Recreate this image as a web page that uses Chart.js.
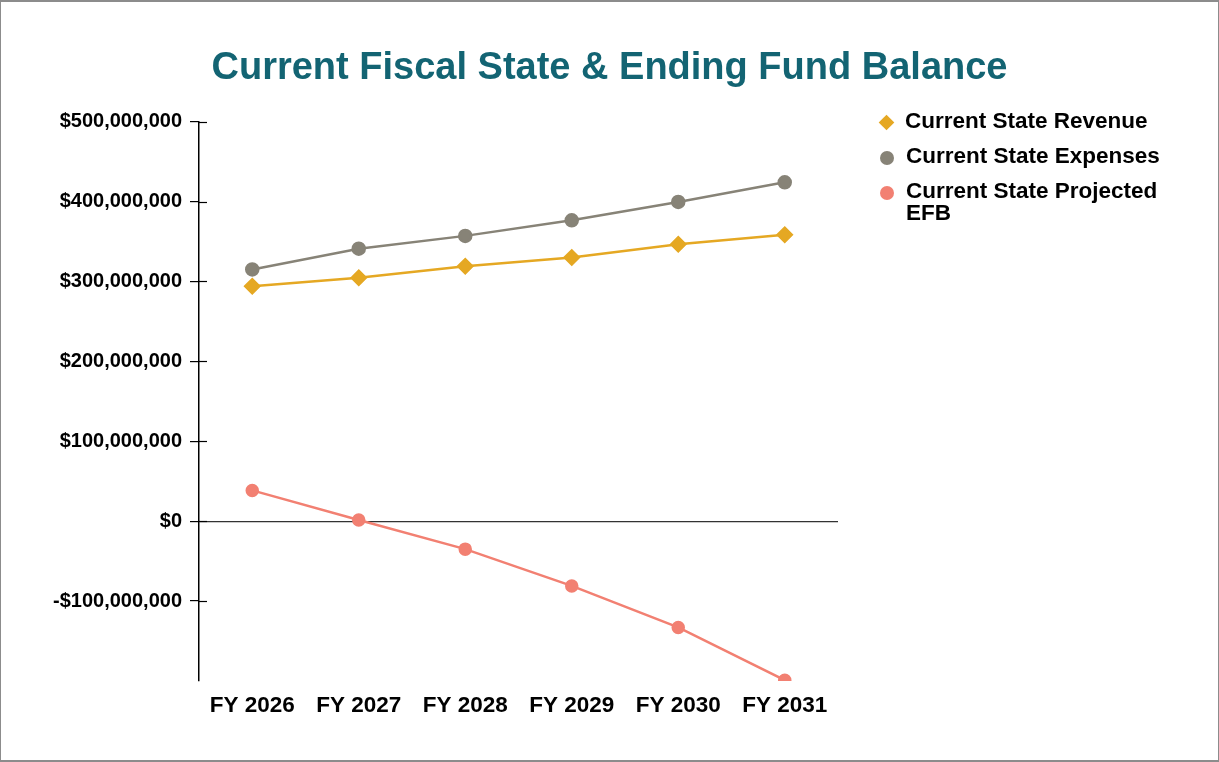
<!DOCTYPE html>
<html>
<head>
<meta charset="utf-8">
<script src="https://cdn.jsdelivr.net/npm/chart.js@4.4.1/dist/chart.umd.min.js"></script>
<style>
  body { margin: 0; background: #fff; font-family: "Liberation Sans", Arial, sans-serif; }
  #wrap { position: relative; width: 1219px; height: 762px; box-sizing: border-box; border: 1px solid #8c8c8c; border-top-width: 2px; border-bottom-width: 2px; }
  #legend { position: absolute; left: 876px; top: 108px; width: 320px; }
  .item { display: flex; align-items: flex-start; margin-bottom: 13px; }
  .mark { flex: none; width: 13px; height: 13px; margin: 6px 12px 0 3px; }
  .mark.diamond { transform: rotate(45deg) scale(0.85); }
  .mark.circle { border-radius: 50%; width: 14px; height: 14px; }
  .txt { font-weight: bold; font-size: 22.5px; line-height: 22px; color: #000; }
</style>
</head>
<body>
<div id="wrap">
  <canvas id="fund"></canvas>
  <div id="legend"></div>
</div>
<script>
var categories = ['FY 2026', 'FY 2027', 'FY 2028', 'FY 2029', 'FY 2030', 'FY 2031'];
var revenue = [294000000, 304500000, 319000000, 330000000, 346500000, 358500000];
var expenses = [315000000, 341000000, 357000000, 376500000, 399500000, 424000000];
var efb = [38500000, 1500000, -35000000, -81000000, -133000000, -199000000];
var yTicks = [-100000000, 0, 100000000, 200000000, 300000000, 400000000, 500000000];

function money(v) {
    var s = '$' + Math.abs(v).toLocaleString('en-US');
    return v < 0 ? '-' + s : s;
}

var font = '"Liberation Sans", Arial, sans-serif';

// tick marks that cross the y axis line, like the original
var crossTicks = {
    id: 'crossTicks',
    afterDraw: function(chart) {
        var y = chart.scales.y;
        var c = chart.ctx;
        c.save();
        c.strokeStyle = '#000';
        c.lineWidth = 1.2;
        y.ticks.forEach(function(t) {
            var py = Math.round(y.getPixelForValue(t.value)) + 0.5;
            c.beginPath();
            c.moveTo(y.right, py);
            c.lineTo(y.right + 8, py);
            c.stroke();
        });
        c.restore();
    }
};

var ctx = document.getElementById('fund');
var fund = new Chart(ctx, {
    type: 'line',
    data: {
        labels: categories,
        datasets: [{
            label: 'Current State Revenue',
            data: revenue,
            borderColor: '#e5a823',
            backgroundColor: '#e5a823',
            pointStyle: 'rectRot',
            pointRadius: 7,
            borderWidth: 2.5,
            markClass: 'diamond'
        }, {
            label: 'Current State Expenses',
            data: expenses,
            borderColor: '#878377',
            backgroundColor: '#878377',
            pointStyle: 'circle',
            pointRadius: 6,
            borderWidth: 2.5,
            markClass: 'circle'
        }, {
            label: 'Current State Projected EFB',
            data: efb,
            borderColor: '#f28072',
            backgroundColor: '#f28072',
            pointStyle: 'circle',
            pointRadius: 5.5,
            borderWidth: 2.5,
            markClass: 'circle'
        }]
    },
    options: {
        responsive: true,
        maintainAspectRatio: false,
        animation: false,
        layout: {
            padding: 0
        },
        plugins: {
            legend: { display: false },
            tooltip: { enabled: false },
            title: {
                display: true,
                text: 'Current Fiscal State & Ending Fund Balance',
                color: '#136473',
                font: { family: font, size: 38, weight: 'bold' },
                padding: { top: 44, bottom: 30 }
            }
        },
        scales: {
            x: {
                offset: true,
                grid: { display: false, drawTicks: false },
                border: { display: false },
                ticks: {
                    color: '#000',
                    padding: 11,
                    font: { family: font, size: 22.5, weight: 'bold' }
                },
                afterFit: function(scale) { scale.height = 79; }
            },
            y: {
                min: -200000000,
                max: 500000000,
                afterBuildTicks: function(scale) {
                    scale.ticks = yTicks.map(function(v) { return { value: v }; });
                },
                grid: {
                    drawOnChartArea: true,
                    tickLength: 9,
                    tickColor: '#000',
                    color: function(c) { return c.tick && c.tick.value === 0 ? '#333' : 'rgba(0,0,0,0)'; },
                    lineWidth: 1.2
                },
                border: { display: true, color: '#000', width: 1.5 },
                ticks: {
                    color: '#000',
                    padding: 8,
                    font: { family: font, size: 20, weight: 'bold' },
                    callback: function(v) { return money(v); }
                },
                afterFit: function(scale) { scale.width = 198; }
            },
            side: {
                position: 'right',
                display: true,
                grid: { display: false, drawTicks: false },
                border: { display: false },
                ticks: { display: false },
                afterFit: function(scale) { scale.width = 380; }
            }
        }
    },
    plugins: [crossTicks]
});

var legend = document.getElementById('legend');
fund.data.datasets.forEach(function(ds) {
    var item = document.createElement('div');
    item.className = 'item';
    var mark = document.createElement('span');
    mark.className = 'mark ' + ds.markClass;
    mark.style.background = ds.backgroundColor;
    var txt = document.createElement('span');
    txt.className = 'txt';
    txt.textContent = ds.label;
    item.appendChild(mark);
    item.appendChild(txt);
    legend.appendChild(item);
});
</script>
</body>
</html>
